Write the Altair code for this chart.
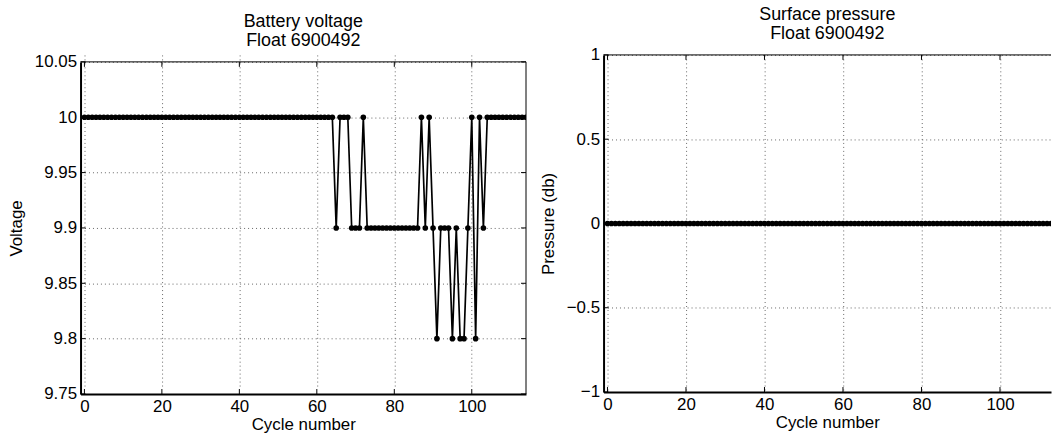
import altair as alt
import pandas as pd

# Float 6900492 engineering data per profile cycle
cycles = list(range(0, 115))
voltage = (
    [10.0] * 65 + [9.9] + [10.0] * 3 + [9.9] * 3 + [10.0] + [9.9] * 14
    + [10.0] + [9.9] + [10.0] + [9.9] + [9.8] + [9.9] * 3 + [9.8] + [9.9]
    + [9.8] * 2 + [9.9] + [10.0] + [9.8] + [10.0] + [9.9] + [10.0] * 11
)
pressure = [0.0] * 115

x_ticks = [0, 20, 40, 60, 80, 100]
volt_ticks = [9.75, 9.8, 9.85, 9.9, 9.95, 10.0, 10.05]
pres_ticks = [-1, -0.5, 0, 0.5, 1]

FONT = "Liberation Sans"
TICK = 5


def panel(values, y_name, y_title, y_domain, y_ticks, title, width, height,
          inset, title_offset, x_domain, right_box=True):
    """One boxed MATLAB-style panel; `inset` lowers the top of the y range."""
    df = pd.DataFrame({"cycle": cycles, y_name: values})
    xs = alt.Scale(domain=x_domain, nice=False, zero=False)
    ys = alt.Scale(domain=y_domain, nice=False, zero=False,
                   range=[height, inset])
    grid = dict(gridDash=[1, 3], gridColor="#666", gridOpacity=1, gridWidth=1)
    x_axis = alt.Axis(values=x_ticks, title="Cycle number", ticks=False,
                      labelPadding=5, titlePadding=2, format="~r", **grid)
    y_axis = alt.Axis(values=y_ticks, title=y_title, ticks=False,
                      labelPadding=4, titlePadding=9, format="~r", **grid)
    base = alt.Chart(df)
    line = base.mark_line(color="black", strokeWidth=1.7, clip=True).encode(
        x=alt.X("cycle:Q", scale=xs, axis=x_axis),
        y=alt.Y(f"{y_name}:Q", scale=ys, axis=y_axis),
    )
    dots = base.mark_circle(color="black", size=32, opacity=1, clip=True).encode(
        x=alt.X("cycle:Q", scale=xs),
        y=alt.Y(f"{y_name}:Q", scale=ys),
    )
    rule = dict(color="black", strokeWidth=1)
    frame = alt.Chart(pd.DataFrame({"k": [0]}))
    xt = alt.Chart(pd.DataFrame({"t": x_ticks}))
    yt = alt.Chart(pd.DataFrame({"t": y_ticks}))
    layers = [
        line, dots,
        # top edge of the box
        frame.mark_rule(**rule).encode(
            y=alt.datum(y_domain[1], scale=ys), x=alt.value(0), x2=alt.value(width)),
        # inward ticks: bottom, top, left
        xt.mark_rule(**rule).encode(
            x=alt.X("t:Q", scale=xs), y=alt.value(height), y2=alt.value(height - TICK)),
        xt.mark_rule(**rule).encode(
            x=alt.X("t:Q", scale=xs), y=alt.value(inset), y2=alt.value(inset + TICK)),
        yt.mark_rule(**rule).encode(
            y=alt.Y("t:Q", scale=ys), x=alt.value(0), x2=alt.value(TICK)),
    ]
    if right_box:
        layers += [
            frame.mark_rule(**rule).encode(
                x=alt.datum(x_domain[1], scale=xs),
                y=alt.datum(y_domain[0], scale=ys), y2=alt.datum(y_domain[1])),
            yt.mark_rule(**rule).encode(
                y=alt.Y("t:Q", scale=ys), x=alt.value(width), x2=alt.value(width - TICK)),
        ]
    return alt.layer(*layers).properties(
        width=width, height=height,
        view=alt.ViewBackground(stroke="transparent"),
        title=alt.TitleParams(text=title, fontSize=18, font=FONT,
                              fontWeight="normal", color="black",
                              lineHeight=19, offset=title_offset,
                              anchor="middle"),
    )


left = panel(voltage, "voltage", "Voltage", [9.75, 10.05], volt_ticks,
             ["Battery voltage", "Float 6900492"], 448, 341, 7, 3, [-1, 114])
# the pressure panel runs off the right side of the page
right = panel(pressure, "pressure", "Pressure (db)", [-1, 1], pres_ticks,
              ["Surface pressure", "Float 6900492"], 450, 339, 0, 3,
              [-1, 113], right_box=False)

chart = alt.hconcat(left, right, spacing=11).properties(
    padding={"left": 6, "top": 4, "right": 0, "bottom": 0},
    background="white",
).configure_axis(
    labelFont=FONT, titleFont=FONT, labelFontSize=17, titleFontSize=17,
    labelColor="black", titleColor="black", titleFontWeight="normal",
    domainColor="black", domainWidth=2,
)

chart.save("out.html", embed_options={"renderer": "svg", "actions": False})
